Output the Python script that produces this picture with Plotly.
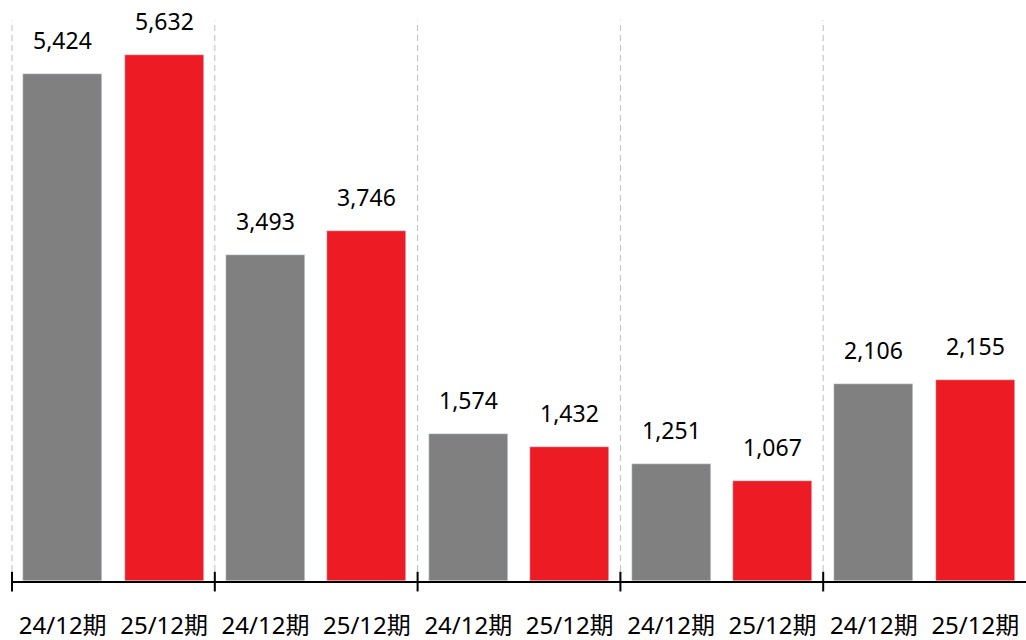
import plotly.graph_objects as go

periods = ["24/12期", "25/12期"]
values_2412 = [5424, 3493, 1574, 1251, 2106]
values_2512 = [5632, 3746, 1432, 1067, 2155]
colors = ["#808080", "#ED1C24"]

n_groups = len(values_2412)
series = [values_2412, values_2512]

fig = go.Figure()
tickvals, ticktext = [], []
for si, vals in enumerate(series):
    xs = [g * 2 + si for g in range(n_groups)]
    fig.add_trace(go.Bar(x=xs, y=vals, marker_color=colors[si], width=0.78,
                         name=periods[si], showlegend=False, hoverinfo="skip"))
    for x, v in zip(xs, vals):
        fig.add_annotation(x=x, y=v, text=f"{v:,}", showarrow=False,
                           yanchor="bottom", yshift=16,
                           font=dict(size=23, color="#000000"))
for g in range(n_groups):
    for si in range(2):
        tickvals.append(g * 2 + si)
        ticktext.append(periods[si])

shapes = []
for g in range(n_groups):
    xd = g / n_groups
    shapes.append(dict(type="line", xref="x domain", yref="paper",
                       x0=xd, x1=xd, y0=0, y1=0.965,
                       line=dict(color="#bdbdbd", width=1, dash="6px,4px")))
    shapes.append(dict(type="line", xref="x domain", yref="paper",
                       x0=xd, x1=xd, y0=-0.018, y1=0.016,
                       line=dict(color="#000000", width=2)))

fig.update_layout(
    width=1026, height=640,
    margin=dict(l=12, r=0, t=0, b=59),
    plot_bgcolor="white", paper_bgcolor="white",
    font=dict(family="Noto Sans, Noto Sans CJK JP", size=24, color="#000000"),
    bargap=0, shapes=shapes,
    xaxis=dict(range=[-0.5, 2 * n_groups - 0.5], tickvals=tickvals, ticktext=ticktext,
               showline=True, linecolor="#000000", linewidth=2, ticks="",
               showgrid=False, zeroline=False, ticklabelstandoff=22,
               automargin=False, tickfont=dict(size=24)),
    yaxis=dict(range=[0, 6220], visible=False, showgrid=False, zeroline=False,
               automargin=False),
)

fig.write_html(
    "out.html",
    config={"displayModeBar": False},
    post_script="document.body.style.margin='0';document.body.style.overflow='hidden';",
)
